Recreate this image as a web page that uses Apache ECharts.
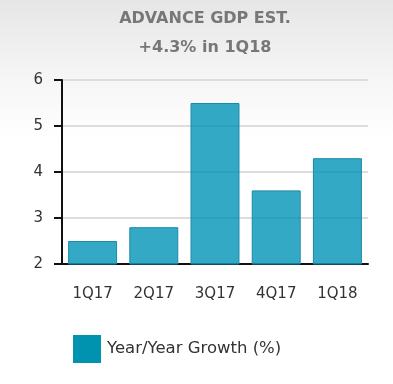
<!DOCTYPE html>
<html><head><meta charset="utf-8">
<script src="https://cdn.jsdelivr.net/npm/echarts@6/dist/echarts.min.js"></script>
<style>
html,body{margin:0;padding:0;}
body{width:393px;height:384px;background:linear-gradient(to bottom,#e6e6e6 0px,#f6f6f6 80px,#ffffff 140px,#ffffff 384px);}
#c{width:393px;height:384px;}
</style></head><body>
<div id="c"></div>
<script>
const titleLines = ['ADVANCE GDP EST.', '+4.3% in 1Q18'];
const categories = ['1Q17', '2Q17', '3Q17', '4Q17', '1Q18'];
const seriesName = 'Year/Year Growth (%)';
const values = [2.5, 2.8, 5.5, 3.6, 4.3];
const yTicks = [2, 3, 4, 5, 6];

const chart = echarts.init(document.getElementById('c'), null, {renderer: 'canvas'});
const font = "'DejaVu Sans'";
chart.setOption({
  backgroundColor: 'transparent',
  animation: false,
  title: [
    {text: titleLines[0], left: 200, textAlign: 'center', top: 6, textStyle: {fontFamily: font, fontSize: 16, fontWeight: 'bold', color: '#777777'}},
    {text: titleLines[1], left: 200, textAlign: 'center', top: 35, textStyle: {fontFamily: font, fontSize: 16, fontWeight: 'bold', color: '#777777'}}
  ],
  legend: {
    left: 68, top: 330, itemWidth: 26, itemHeight: 26, itemGap: 8,
    icon: 'rect',
    textStyle: {fontFamily: font, fontSize: 16.5, color: '#333333', padding: [0,0,0,2]},
    data: [{name: seriesName, itemStyle: {color: '#0093b0', borderColor: '#0093b0'}}]
  },
  grid: {left: 62, right: 25, top: 80, bottom: 120, containLabel: false},
  xAxis: {
    type: 'category', data: categories,
    axisLine: {lineStyle: {color: '#111111', width: 2}},
    axisTick: {alignWithLabel: true, length: 8, lineStyle: {color: '#111111', width: 2}},
    axisLabel: {fontFamily: font, fontSize: 15, color: '#333333', margin: 23}
  },
  yAxis: {
    type: 'value', min: yTicks[0], max: yTicks[yTicks.length-1], interval: 1,
    axisLine: {show: true, lineStyle: {color: '#111111', width: 2}},
    axisTick: {show: true, length: 8, lineStyle: {color: '#111111', width: 2}},
    axisLabel: {fontFamily: font, fontSize: 15, color: '#333333', margin: 19},
    splitLine: {lineStyle: {color: '#dddddd', width: 2}}
  },
  series: [{
    name: seriesName, type: 'bar', data: values,
    barCategoryGap: '20%',
    itemStyle: {color: 'rgba(0,147,183,0.8)', borderColor: '#1a8aa8', borderWidth: 1}
  }]
});
</script>
</body></html>
